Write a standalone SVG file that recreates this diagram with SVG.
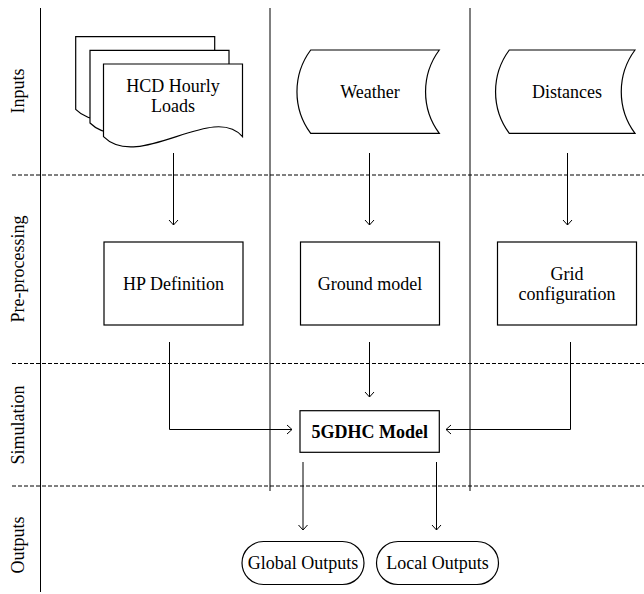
<svg xmlns="http://www.w3.org/2000/svg" width="644" height="594" viewBox="0 0 644 594">
<defs>
<marker id="arr" markerUnits="userSpaceOnUse" markerWidth="12" markerHeight="12" refX="8" refY="6" orient="auto">
<path d="M3,1.5 L8,6 L3,10.5" fill="none" stroke="#000" stroke-width="1"/>
</marker>
<path id="doc" d="M0,0 H139 V72.7 C110,38 35,108 0,72.7 Z"/>
</defs>
<style>
.ln{stroke:#000;stroke-width:1;fill:none}
.dash{stroke:#000;stroke-width:1;stroke-dasharray:4,2;fill:none}
.box{fill:#fff;stroke:#000;stroke-width:1.2}
text{font-family:'Liberation Serif','Times New Roman',serif;font-size:18px;fill:#000;text-anchor:middle}
.b{font-weight:bold}
.c{stroke:#000;stroke-width:1;fill:none;marker-end:url(#arr)}
</style>
<rect width="644" height="594" fill="#fff"/>
<g id="lanes">
<line class="ln" x1="40.5" y1="8" x2="40.5" y2="592"/>
<line class="ln" x1="270" y1="8" x2="270" y2="491"/>
<line class="ln" x1="470" y1="8" x2="470" y2="491"/>
<line class="dash" x1="12" y1="175" x2="644" y2="175"/>
<line class="dash" x1="12" y1="363.5" x2="644" y2="363.5"/>
<line class="dash" x1="12" y1="486" x2="644" y2="486"/>
<text transform="translate(24,91) rotate(-90)">Inputs</text>
<text transform="translate(24,269) rotate(-90)">Pre-processing</text>
<text transform="translate(24,425) rotate(-90)">Simulation</text>
<text transform="translate(24,545) rotate(-90)">Outputs</text>
</g>
<g id="connectors">
<line class="c" x1="173.5" y1="153" x2="173.5" y2="225"/>
<line class="c" x1="369.5" y1="153" x2="369.5" y2="225"/>
<line class="c" x1="567.5" y1="153" x2="567.5" y2="225"/>
<polyline class="c" points="169.5,342 169.5,429.5 292,429.5"/>
<line class="c" x1="369.5" y1="342" x2="369.5" y2="397"/>
<polyline class="c" points="570.5,342 570.5,429.5 446,429.5"/>
<line class="c" x1="303" y1="462" x2="303" y2="530"/>
<line class="c" x1="436.5" y1="462" x2="436.5" y2="530"/>
</g>
<g id="hcd">
<use href="#doc" class="box" x="75.7" y="36.7"/>
<use href="#doc" class="box" x="90" y="50.3"/>
<use href="#doc" class="box" x="103.5" y="64"/>
<text x="173" y="92">HCD Hourly</text>
<text x="173" y="112">Loads</text>
</g>
<g id="weather">
<path class="box" d="M310.7,50 H439.3 A70,70 0 0 0 439.3,133.3 H310.7 A70,70 0 0 1 310.7,50 Z"/>
<text x="370" y="97.5">Weather</text>
</g>
<g id="distances">
<path class="box" d="M509.3,50 H635 A70,70 0 0 0 635,133.3 H509.3 A70,70 0 0 1 509.3,50 Z"/>
<text x="567" y="97.5">Distances</text>
</g>
<g id="hp">
<rect class="box" x="104" y="242" width="139" height="83"/>
<text x="173.5" y="290">HP Definition</text>
</g>
<g id="ground">
<rect class="box" x="300.5" y="242" width="139" height="83"/>
<text x="370" y="290">Ground model</text>
</g>
<g id="grid">
<rect class="box" x="497.5" y="242" width="139" height="83"/>
<text x="567" y="280">Grid</text>
<text x="567" y="300">configuration</text>
</g>
<g id="model">
<rect class="box" x="300" y="410.7" width="139.3" height="41.6"/>
<text class="b" x="369.7" y="437.5">5GDHC Model</text>
</g>
<g id="global">
<rect class="box" x="242" y="541.5" width="122" height="43" rx="21.5"/>
<text x="303" y="569">Global Outputs</text>
</g>
<g id="local">
<rect class="box" x="376.5" y="541.5" width="122" height="43" rx="21.5"/>
<text x="437.5" y="569">Local Outputs</text>
</g>
</svg>
